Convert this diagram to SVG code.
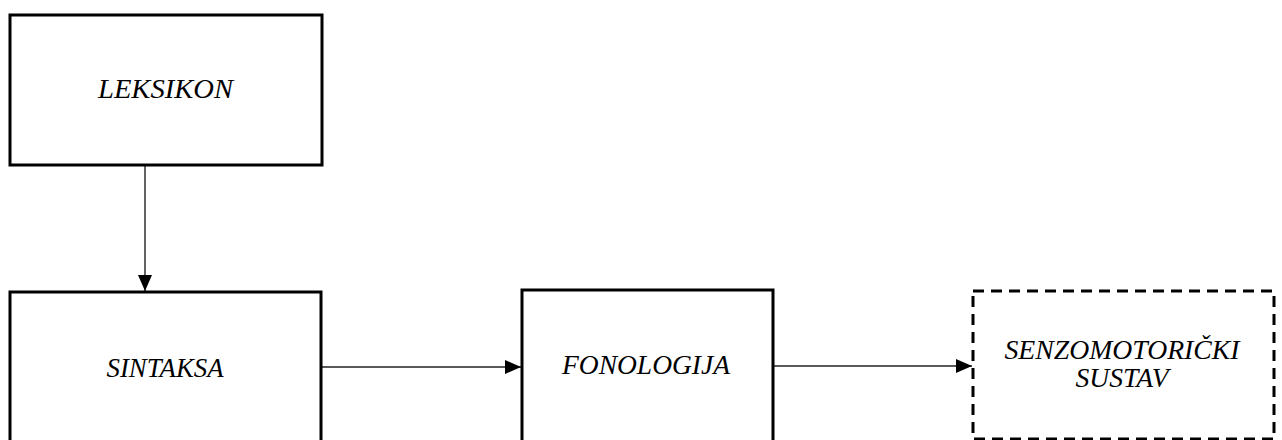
<svg xmlns="http://www.w3.org/2000/svg" width="1282" height="440" viewBox="0 0 1282 440">
<style>
.box{fill:#fff;stroke:#000;stroke-width:3}
.dash{fill:#fff;stroke:#000;stroke-width:3;stroke-dasharray:11 7}
.lbl{font-family:"Liberation Serif","Times New Roman",serif;font-style:italic;font-size:27px;fill:#000;text-anchor:middle}
.con{stroke:#222;stroke-width:1.4;fill:none}
</style>
<defs>
<marker id="arr" markerWidth="16" markerHeight="14" refX="16" refY="7" orient="auto" markerUnits="userSpaceOnUse">
<path d="M0,0 L16,7 L0,14 Z" fill="#000"/>
</marker>
</defs>
<rect width="1282" height="440" fill="#fff"/>
<g id="connectors">
<line class="con" x1="145" y1="166" x2="145" y2="291" marker-end="url(#arr)"/>
<line class="con" x1="322" y1="367" x2="521" y2="367" marker-end="url(#arr)"/>
<line class="con" x1="774" y1="366" x2="972" y2="366" marker-end="url(#arr)"/>
</g>
<g id="leksikon">
<rect class="box" x="10" y="15" width="312" height="150"/>
<text class="lbl" x="165.5" y="98" textLength="135" lengthAdjust="spacingAndGlyphs">LEKSIKON</text>
</g>
<g id="sintaksa">
<rect class="box" x="10" y="292" width="311" height="160"/>
<text class="lbl" x="165" y="377" textLength="117" lengthAdjust="spacingAndGlyphs">SINTAKSA</text>
</g>
<g id="fonologija">
<rect class="box" x="522" y="290" width="251" height="162"/>
<text class="lbl" x="646" y="374" textLength="168" lengthAdjust="spacingAndGlyphs">FONOLOGIJA</text>
</g>
<g id="senzomotoricki">
<rect class="dash" x="973" y="291" width="301" height="148"/>
<text class="lbl" x="1122" y="359" textLength="235" lengthAdjust="spacingAndGlyphs">SENZOMOTORIČKI</text>
<text class="lbl" x="1122" y="387" textLength="93" lengthAdjust="spacingAndGlyphs">SUSTAV</text>
</g>
</svg>
